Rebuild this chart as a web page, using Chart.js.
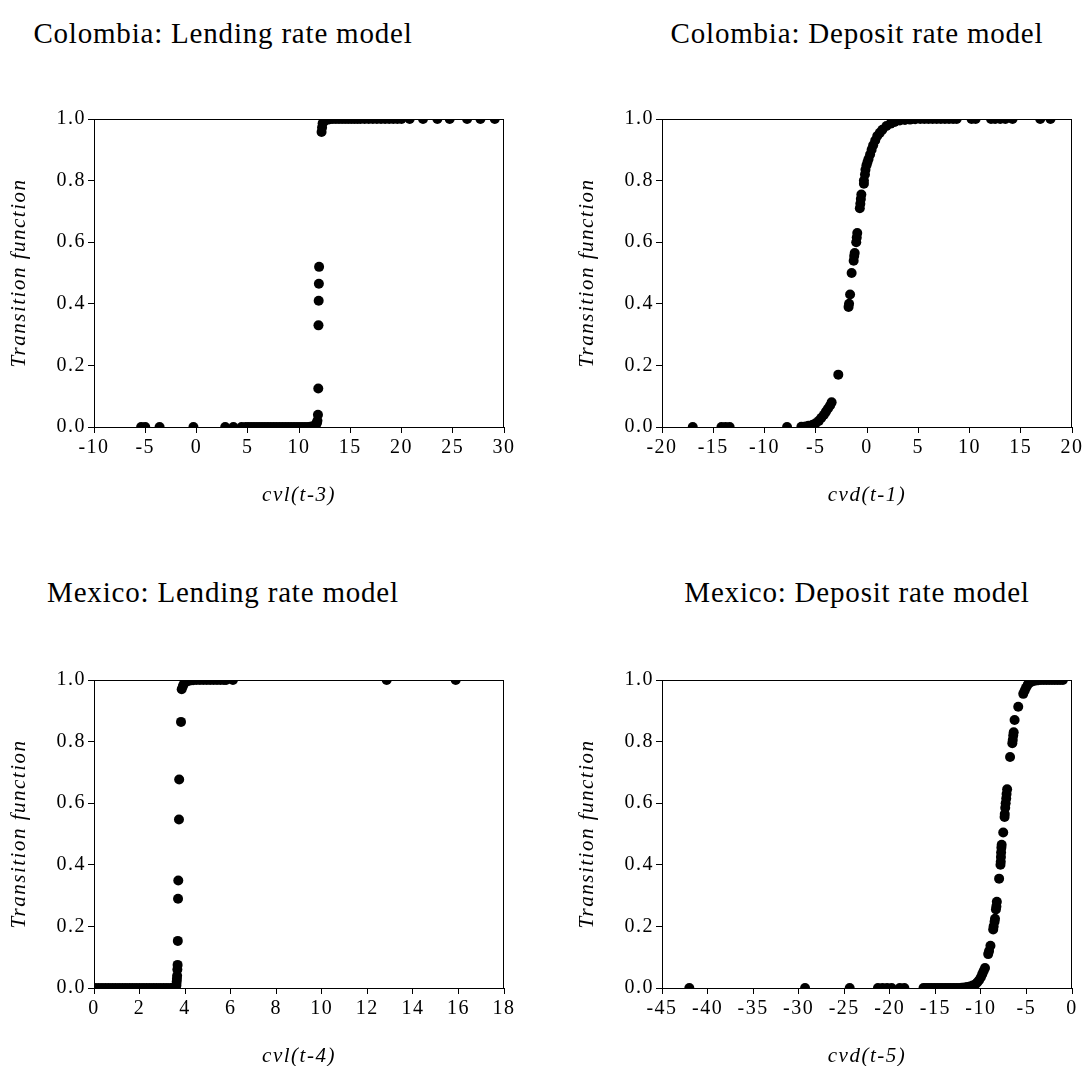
<!DOCTYPE html>
<html>
<head>
<meta charset="utf-8">
<script src="https://cdn.jsdelivr.net/npm/chart.js@4.4.1/dist/chart.umd.min.js"></script>
<style>
body { margin: 0; background: #fff; width: 1085px; height: 1066px; position: relative; overflow: hidden; font-family: "Liberation Serif", "Times New Roman", serif; }
.ttl { position: absolute; font-size: 29px; letter-spacing: 0.8px; color: #000; white-space: nowrap; line-height: 1; transform: translateX(-50%); }
canvas { position: absolute; }
</style>
</head>
<body>
<div class="ttl" style="left:223px;top:19px">Colombia: Lending rate model</div>
<div class="ttl" style="left:857px;top:19px">Colombia: Deposit rate model</div>
<div class="ttl" style="left:223px;top:578px">Mexico: Lending rate model</div>
<div class="ttl" style="left:857px;top:578px">Mexico: Deposit rate model</div>
<canvas id="c1" width="517" height="470" style="left:0;top:60px"></canvas>
<canvas id="c2" width="517" height="470" style="left:568px;top:60px"></canvas>
<canvas id="c3" width="517" height="470" style="left:0;top:621px"></canvas>
<canvas id="c4" width="517" height="470" style="left:568px;top:621px"></canvas>
<script>
// Colombia, lending rate model: cvl(t-3) vs transition function
colLendX = [-5.4, -5.0, -3.6, -0.3, 2.8, 3.6, 4.4, 4.8, 5.1, 5.4, 5.7, 6.0, 6.3, 6.6, 6.9, 7.2, 7.5, 7.8, 8.1, 8.4, 8.7, 9.0, 9.3, 9.6, 9.9, 10.2, 10.5, 10.8, 11.1, 11.3, 11.5, 11.6, 11.7, 11.75, 11.8, 11.85, 11.88, 11.9, 11.92, 11.94, 11.96, 12.2, 12.25, 12.3, 12.4, 12.6, 12.8, 13.0, 13.3, 13.6, 13.9, 14.2, 14.5, 14.8, 15.1, 15.4, 15.7, 16.0, 16.4, 16.8, 17.2, 17.6, 18.0, 18.4, 18.8, 19.2, 19.6, 20.0, 20.8, 22.1, 23.5, 24.7, 26.4, 27.7, 29.1]
colLendY = [0, 0, 0, 0, 0, 0, 0, 0, 0, 0, 0, 0, 0, 0, 0, 0, 0, 0, 0, 0, 0, 0, 0, 0, 0, 0, 0, 0, 0.001, 0.002, 0.004, 0.006, 0.01, 0.015, 0.02, 0.04, 0.125, 0.33, 0.41, 0.465, 0.52, 0.958, 0.972, 0.985, 0.992, 0.996, 0.998, 0.999, 1, 1, 1, 1, 1, 1, 1, 1, 1, 1, 1, 1, 1, 1, 1, 1, 1, 1, 1, 1, 1, 1, 1, 1, 1, 1, 1]

// Colombia, deposit rate model: cvd(t-1)
colDepX = [-17.0, -14.2, -13.8, -13.4, -7.8, -6.4, -6.0, -5.7, -5.3, -5.0, -4.7, -4.45, -4.2, -4.0, -3.8, -3.6, -3.45, -2.8, -1.8, -1.75, -1.65, -1.5, -1.3, -1.25, -1.2, -1.05, -1.0, -0.95, -0.7, -0.65, -0.6, -0.55, -0.3, -0.3, -0.2, -0.15, -0.05, 0.05, 0.15, 0.3, 0.45, 0.6, 0.8, 1.0, 1.25, 1.5, 1.9, 2.3, 2.7, 3.2, 3.7, 4.2, 4.7, 5.2, 5.6, 6.0, 6.4, 6.8, 7.2, 7.6, 8.0, 8.4, 8.75, 10.2, 10.6, 12.1, 12.5, 13.0, 13.5, 14.2, 16.9, 17.9]
colDepY = [0, 0, 0, 0, 0, 0.001, 0.002, 0.004, 0.007, 0.012, 0.02, 0.03, 0.04, 0.05, 0.06, 0.07, 0.08, 0.17, 0.39, 0.4, 0.43, 0.5, 0.54, 0.555, 0.565, 0.6, 0.615, 0.63, 0.71, 0.725, 0.74, 0.755, 0.79, 0.8, 0.82, 0.835, 0.85, 0.86, 0.87, 0.885, 0.9, 0.915, 0.93, 0.945, 0.955, 0.965, 0.977, 0.985, 0.99, 0.995, 0.997, 0.998, 0.999, 1, 1, 1, 1, 1, 1, 1, 1, 1, 1, 1, 1, 1, 1, 1, 1, 1, 1, 1]

// Mexico, lending rate model: cvl(t-4)
mexLendX = [0.05, 0.2, 0.35, 0.5, 0.65, 0.8, 0.95, 1.1, 1.25, 1.4, 1.55, 1.7, 1.85, 2.0, 2.15, 2.3, 2.45, 2.6, 2.75, 2.9, 3.05, 3.2, 3.35, 3.45, 3.55, 3.6, 3.62, 3.63, 3.64, 3.65, 3.66, 3.67, 3.68, 3.69, 3.7, 3.73, 3.74, 3.82, 3.85, 3.9, 3.95, 4.0, 4.1, 4.2, 4.35, 4.5, 4.65, 4.8, 4.95, 5.1, 5.25, 5.4, 5.55, 5.7, 5.8, 6.1, 12.85, 15.88]
mexLendY = [0, 0, 0, 0, 0, 0, 0, 0, 0, 0, 0, 0, 0, 0, 0, 0, 0, 0, 0, 0, 0, 0, 0, 0, 0.002, 0.005, 0.01, 0.02, 0.03, 0.04, 0.06, 0.075, 0.153, 0.29, 0.349, 0.547, 0.677, 0.864, 0.97, 0.98, 0.988, 0.993, 0.996, 0.998, 0.999, 1, 1, 1, 1, 1, 1, 1, 1, 1, 1, 1, 1, 1]

// Mexico, deposit rate model: cvd(t-5)
mexDepX = [-42.0, -29.3, -24.4, -21.3, -20.8, -20.3, -19.8, -18.9, -18.4, -16.3, -16.0, -15.7, -15.4, -15.1, -14.8, -14.5, -14.2, -13.9, -13.6, -13.3, -13.0, -12.7, -12.4, -12.1, -11.8, -11.5, -11.2, -10.9, -10.6, -10.4, -10.2, -10.0, -9.85, -9.7, -9.55, -9.2, -9.1, -8.95, -8.65, -8.6, -8.5, -8.45, -8.35, -8.3, -8.25, -8.0, -7.85, -7.82, -7.8, -7.78, -7.75, -7.72, -7.55, -7.4, -7.38, -7.33, -7.28, -7.22, -7.18, -7.12, -6.8, -6.55, -6.5, -6.45, -6.4, -6.3, -5.9, -5.35, -5.2, -5.05, -4.85, -4.6, -4.3, -4.0, -3.7, -3.4, -3.1, -2.8, -2.5, -2.2, -1.9, -1.6, -1.3, -1.0]
mexDepY = [0, 0, 0, 0, 0, 0, 0, 0, 0, 0, 0, 0, 0, 0, 0, 0, 0, 0, 0, 0, 0, 0, 0, 0.001, 0.002, 0.003, 0.005, 0.008, 0.012, 0.018, 0.025, 0.035, 0.045, 0.055, 0.065, 0.11, 0.12, 0.137, 0.19, 0.2, 0.215, 0.225, 0.255, 0.265, 0.28, 0.355, 0.4, 0.41, 0.425, 0.44, 0.455, 0.465, 0.505, 0.555, 0.565, 0.585, 0.6, 0.615, 0.63, 0.645, 0.75, 0.795, 0.805, 0.82, 0.83, 0.87, 0.913, 0.955, 0.965, 0.975, 0.985, 0.992, 0.996, 0.998, 0.999, 1, 1, 1, 1, 1, 1, 1, 1, 1]

yTitle = "Transition function"
tickFont = { family: "'Liberation Serif', 'Times New Roman', serif", size: 20 }
axisTitleFont = { family: "'Liberation Serif', 'Times New Roman', serif", size: 21, style: 'italic' }

// the original text is a little wider than Times, so space the letters out
const spacingPlugin = {
    id: 'spacing',
    beforeDraw(chart) {
        chart.ctx.letterSpacing = '1.5px';
    }
}

// box round the plot area (top and right sides)
const framePlugin = {
    id: 'frame',
    afterDatasetsDraw(chart) {
        const { ctx, chartArea } = chart;
        ctx.save();
        ctx.strokeStyle = '#000';
        ctx.lineWidth = 1;
        ctx.strokeRect(chartArea.left + 0.5, chartArea.top + 0.5, chartArea.right - chartArea.left - 1, chartArea.bottom - chartArea.top);
        ctx.restore();
    }
}

const makePanel = (id, xs, ys, xMin, xMax, xStep, xTitle) => {
    const ctx = document.getElementById(id).getContext('2d');
    return new Chart(ctx, {
        type: 'scatter',
        data: {
            datasets: [{
                data: xs.map((x, i) => ({ x: x, y: ys[i] })),
                backgroundColor: '#000',
                borderColor: '#000',
                borderWidth: 0,
                pointRadius: 5,
                pointHoverRadius: 5,
                clip: 0
            }]
        },
        options: {
            responsive: false,
            animation: false,
            events: [],
            layout: { padding: { left: 0, right: 13, top: 59, bottom: 0 } },
            plugins: { legend: { display: false }, tooltip: { enabled: false } },
            scales: {
                x: {
                    type: 'linear', min: xMin, max: xMax,
                    ticks: { stepSize: xStep, font: tickFont, color: '#000', padding: 3, maxRotation: 0, autoSkip: false },
                    grid: { drawOnChartArea: false, tickLength: 6, tickColor: '#000' },
                    border: { color: '#000' },
                    title: { display: true, text: xTitle, font: axisTitleFont, color: '#000', padding: { top: 0, bottom: 22 } },
                    afterFit: (s) => { s.height = 103 }
                },
                y: {
                    type: 'linear', min: 0, max: 1,
                    ticks: { stepSize: 0.2, font: tickFont, color: '#000', padding: 2, callback: (v) => v.toFixed(1) },
                    grid: { drawOnChartArea: false, tickLength: 6, tickColor: '#000' },
                    border: { color: '#000' },
                    title: { display: true, text: yTitle, font: axisTitleFont, color: '#000', padding: { top: 7, bottom: 0 } },
                    afterFit: (s) => { s.width = 94 }
                }
            }
        },
        plugins: [spacingPlugin, framePlugin]
    });
}

makePanel('c1', colLendX, colLendY, -10, 30, 5, 'cvl(t-3)')
makePanel('c2', colDepX, colDepY, -20, 20, 5, 'cvd(t-1)')
makePanel('c3', mexLendX, mexLendY, 0, 18, 2, 'cvl(t-4)')
makePanel('c4', mexDepX, mexDepY, -45, 0, 5, 'cvd(t-5)')
</script>
</body>
</html>
